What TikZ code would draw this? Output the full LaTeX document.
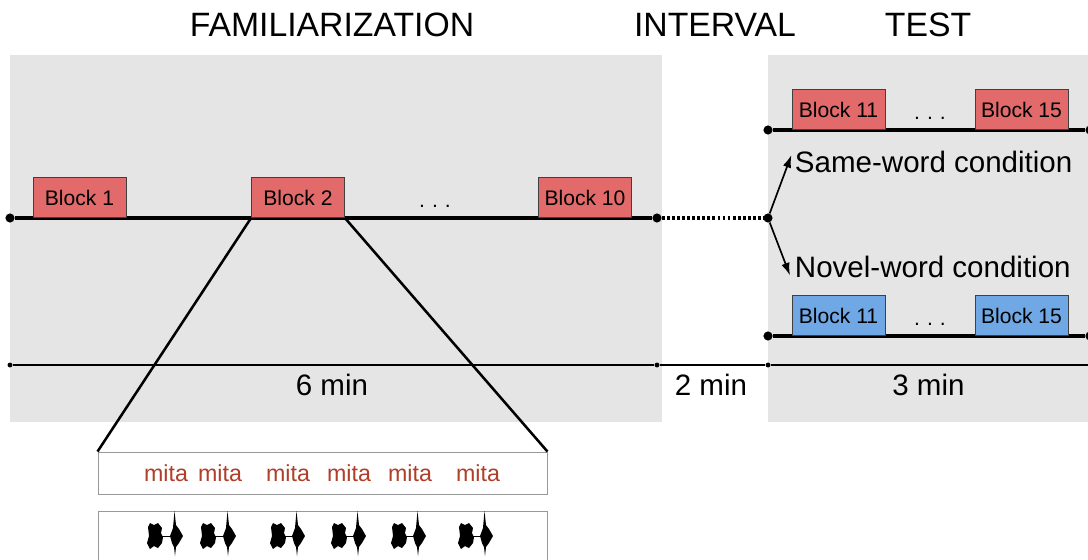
\documentclass[tikz,border=0pt]{standalone}
\usepackage{fontspec}
\setmainfont{Liberation Sans}
\usetikzlibrary{arrows}
\usetikzlibrary{arrows.meta}
\usetikzlibrary{positioning}
\definecolor{bggray}{RGB}{229,229,229}
\definecolor{blockred}{RGB}{226,106,106}
\definecolor{blockblue}{RGB}{111,168,228}
\definecolor{mitared}{RGB}{176,62,40}
\tikzset{circ/.style = {fill, circle, inner sep = 0, minimum size = 6.5pt},
  smallcirc/.style = {fill, circle, inner sep = 0, minimum size = 3.5pt},
  block/.style = {draw = black!75, line width = 0.6pt, inner sep = 0, minimum width = 2.325cm, minimum height = 1cm, anchor = south, font = \fontsize{15}{17}\selectfont},
  phase/.style = {font = \fontsize{24}{28}\selectfont},
  dur/.style = {font = \fontsize{21}{25}\selectfont},
  strip/.style = {draw = black!40, fill = white, line width = 0.6pt, inner sep = 0, minimum width = 11.225cm},
  timeline/.style = {line width = 2.6pt},
  branch/.style = {-{Latex[length = 9pt, width = 6pt]}, line width = 1.2pt}}

\begin{document}
\begin{tikzpicture}[x = 0.025cm, y = -0.025cm]
          \useasboundingbox (0, 0) rectangle (1088, 560);
          \fill [bggray] (10, 55) rectangle (662, 422);
          \fill [bggray] (768, 55) rectangle (1088, 422);

          \node [phase] (fam) at (332, 25) {FAMILIARIZATION};
          \node [phase] (int) at (715, 25) {INTERVAL};
          \node [phase] (test) at (928, 25) {TEST};

          % familiarization
          \node [circ] (start) at (10, 218) {};
          \node [circ] (end) at (657, 218) {};
          \node [circ] (split) at (768, 218) {};
          \draw [timeline] (start) -- (end);
          \draw [line width = 2.6pt, dash pattern = on 2pt off 1.6pt] (end) -- (split);
          \node [block, fill = blockred] (b1) at (79.5, 218) {Block 1};
          \node [block, fill = blockred] (b2) at (298, 218) {Block 2};
          \node [block, fill = blockred] (b10) at (585, 218) {Block 10};
          \node [font = \fontsize{15}{17}\selectfont] (dots) at (435, 206) {.\,\,.\,\,.};

          % test
          \node [circ] (same0) at (768, 130) {};
          \node [circ] (same1) at (1090, 130) {};
          \node [circ] (novel0) at (768, 336) {};
          \node [circ] (novel1) at (1090, 336) {};
          \draw [timeline] (same0) -- (same1);
          \draw [timeline] (novel0) -- (novel1);
          \node [block, fill = blockred] (s11) at (838.5, 130) {Block 11};
          \node [block, fill = blockred] (s15) at (1021.5, 130) {Block 15};
          \node [block, fill = blockblue] (n11) at (838.5, 336) {Block 11};
          \node [block, fill = blockblue] (n15) at (1021.5, 336) {Block 15};
          \node [font = \fontsize{15}{17}\selectfont] (sdots) at (930, 118) {.\,\,.\,\,.};
          \node [font = \fontsize{15}{17}\selectfont] (ndots) at (930, 324) {.\,\,.\,\,.};

          \node [dur, anchor = west] (same) at (790, 162) {Same-word condition};
          \node [dur, anchor = west] (novel) at (790, 267) {Novel-word condition};
          \draw [branch] (split) -- ([xshift = 1pt, yshift = 5pt]same.west);
          \draw [branch] (split) -- ([xshift = 0pt, yshift = -6pt]novel.west);

          % durations
          \node [smallcirc] (t0) at (10, 365) {};
          \node [smallcirc] (t1) at (657, 365) {};
          \node [smallcirc] (t2) at (768, 365) {};
          \coordinate (t3) at (1088, 365);
          \draw [line width = 0.8pt] (t0) -- (t1) -- (t2) -- (t3);
          \node [dur] (six) at (332, 385) {6 min};
          \node [dur] (two) at (711, 385) {2 min};
          \node [dur] (three) at (928.5, 385) {3 min};

          % zoom on block 2
          \node [strip, minimum height = 1.05cm] (words) at (322.5, 473) {};
          \node [strip, minimum height = 1.225cm] (wave) at (322.5, 535.5) {};
          \draw [line width = 1.8pt] (b2.south west) -- (words.north west);
          \draw [line width = 1.8pt] (b2.south east) -- (words.north east);

          \foreach \x [count = \i] in {166, 220, 288, 349, 410, 478}
            \node [text = mitared, font = \fontsize{16.5}{18}\selectfont] (m\i) at (\x, 473) {mita};

          \foreach \bx/\sx in {148/175, 201/228, 271/297, 332/358, 392/418, 459/485} {
            \fill (\bx, 527) -- (\bx+2, 523) -- (\bx+6, 525) -- (\bx+10, 523) -- (\bx+14, 528) -- (\bx+13, 533) -- (\bx+15, 537) -- (\bx+14, 543) -- (\bx+10, 548) -- (\bx+6, 546) -- (\bx+2, 549) -- (\bx-1, 543) -- (\bx+1, 536) -- cycle;
            \draw [line width = 0.5pt] (\bx+14, 536) -- (\sx-4, 536);
            \fill (\sx-5, 536) -- (\sx-2, 528) -- (\sx-0.5, 511) -- (\sx+1, 525) -- (\sx+4, 529) -- (\sx+8, 536) -- (\sx+4, 543) -- (\sx+1, 547) -- (\sx, 556) -- (\sx-1, 547) -- (\sx-3, 543) -- cycle;
          }
        \end{tikzpicture}
\end{document}
